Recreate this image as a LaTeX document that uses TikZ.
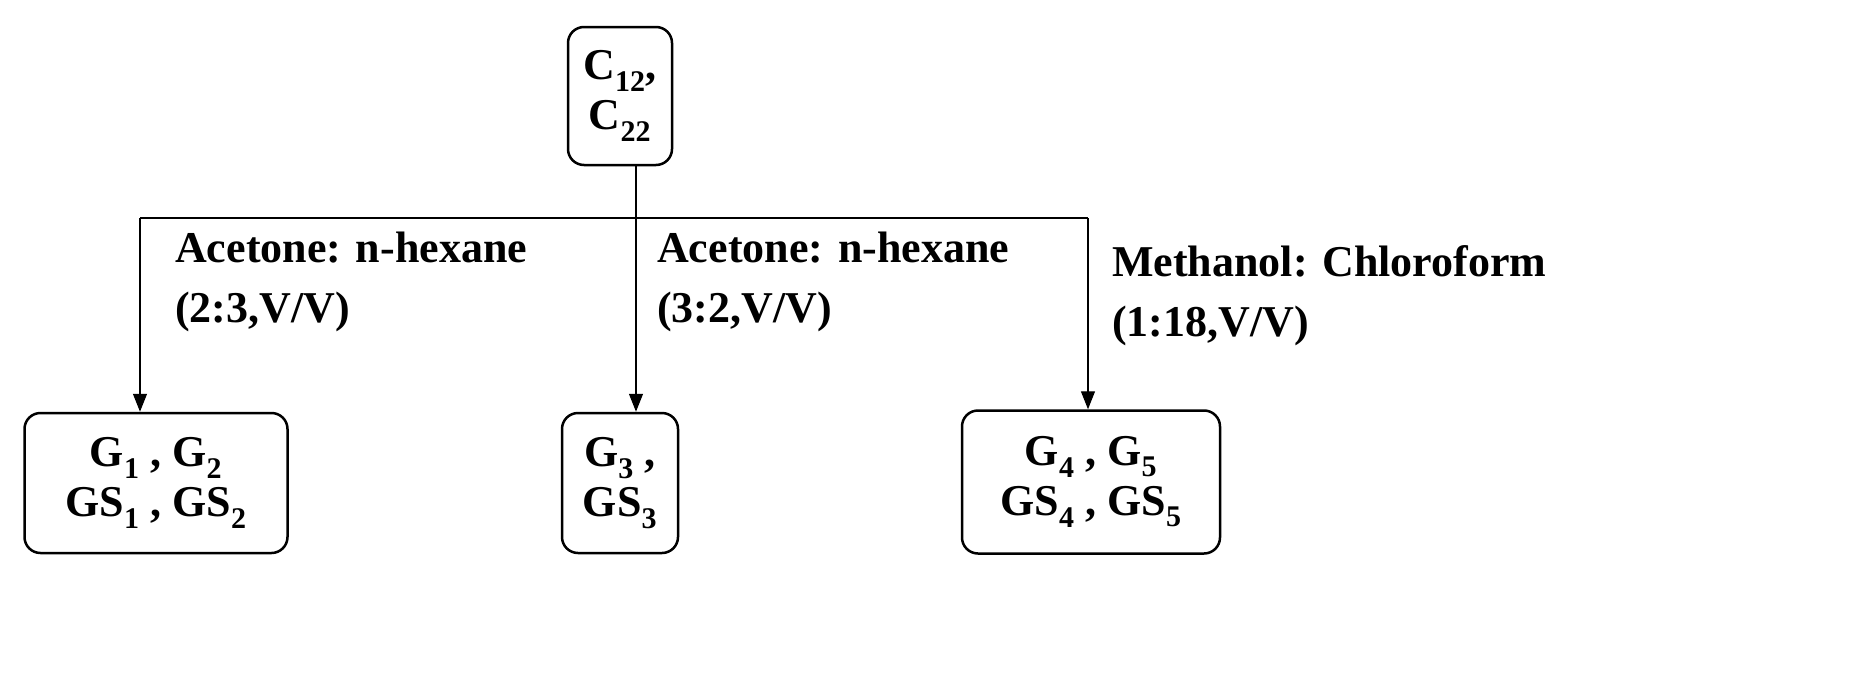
\documentclass[tikz,border=0pt]{standalone}
\usepackage{fontspec}
\setmainfont{Liberation Serif}
\usetikzlibrary{arrows.meta}
\newcommand{\sbs}[1]{\textsubscript{\fontsize{30}{30}\selectfont #1}}
\begin{document}
\begin{tikzpicture}[x=1pt,y=-1pt,
  bx/.style={draw,line width=2.5pt,rounded corners=16pt,font=\fontsize{44}{50}\selectfont\bfseries,align=center,inner sep=0pt},
  lab/.style={font=\fontsize{44}{60}\selectfont\bfseries,align=left,anchor=north west,inner sep=0pt},
  ar/.style={line width=1.3pt,-{Triangle[length=18pt,width=14pt]}}]
\useasboundingbox (0,0) rectangle (1854,680);
\node[bx,minimum width=104pt,minimum height=138pt] (top) at (620,96) {C\sbs{12},\\C\sbs{22}};
\node[bx,minimum width=263pt,minimum height=140pt] (l) at (156,483) {G\sbs{1} , G\sbs{2}\\GS\sbs{1} , GS\sbs{2}};
\node[bx,minimum width=116pt,minimum height=140pt] (m) at (620,483) {G\sbs{3} ,\\GS\sbs{3}};
\node[bx,minimum width=258pt,minimum height=143pt] (r) at (1091,482) {G\sbs{4} , G\sbs{5}\\GS\sbs{4} , GS\sbs{5}};
\coordinate (hl) at (140,218);
\coordinate (hr) at (1088,218);
\draw[line width=1.3pt] (hl) -- (hr);
\draw[ar] (top.south -| 636,0) -- (m.north -| 636,0);
\draw[ar] (hl) -- (l.north -| hl);
\draw[ar] (hr) -- (r.north -| hr);
\node[lab] (t1) at (175,232) {Acetone: n-hexane\\(2:3,V/V)};
\node[lab] (t2) at (657,232) {Acetone: n-hexane\\(3:2,V/V)};
\node[lab] (t3) at (1112,245) {Methanol: Chloroform\\(1:18,V/V)};
\end{tikzpicture}
\end{document}
